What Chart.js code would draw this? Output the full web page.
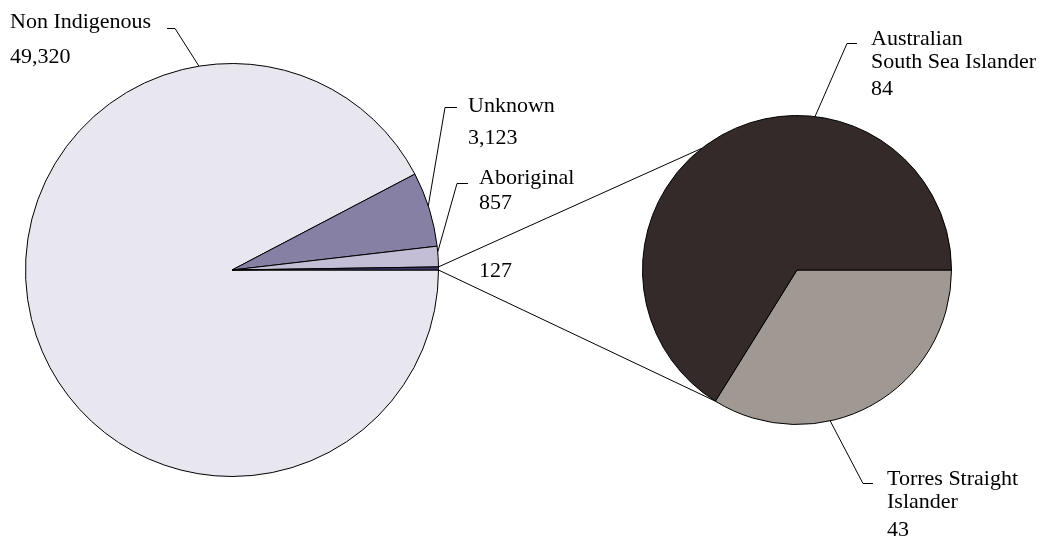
<!DOCTYPE html>
<html>
<head>
<meta charset="utf-8">
<script src="https://cdn.jsdelivr.net/npm/chart.js@4/dist/chart.umd.min.js"></script>
<style>
  body { margin: 0; background: #fff; }
  #wrap { position: relative; width: 1039px; height: 539px; }
  canvas { position: absolute; left: 0; top: 0; }
</style>
</head>
<body>
<div id="wrap">
  <canvas id="mainPie" width="1039" height="539"></canvas>
  <canvas id="subPie" width="1039" height="539"></canvas>
</div>
<script>
// main pie data (last slice is split out into the small pie)
var mainLabels = [['Non Indigenous'], ['Unknown'], ['Aboriginal'], []];
var mainValues = [49320, 3123, 857, 127];
var mainColors = ['#e8e6ee', '#8680a5', '#c3bdd6', '#3c3868'];

// secondary pie data
var subLabels = [['Torres Straight', 'Islander'], ['Australian', 'South Sea Islander']];
var subValues = [43, 84];
var subColors = ['#a09892', '#332a29'];

// where each label sits: first baseline, line step, value baseline,
// little tick beside the text and the angle where the leader meets the pie
var mainLayout = [
    { x: 10, y: 28, step: 23, valueY: 63, tick: [167, 175, 28], edge: -99.2 },
    { x: 468, y: 112, step: 23, valueY: 144, tick: [457, 445, 107], edge: -18.1 },
    { x: 479, y: 184, step: 23, valueY: 209, tick: [468, 457, 183], edge: -5.0 },
    { x: 479, y: 277, step: 23, valueY: 277, tick: null, edge: 0 }
];
var subLayout = [
    { x: 887, y: 485, step: 23, valueY: 536, tick: [873, 863, 483], edge: 77.6 },
    { x: 871, y: 45, step: 23, valueY: 95, tick: [857, 847, 43], edge: -83.3 }
];
var topLinkAngle = -128; // where the upper connector touches the small pie

var FONT = '22px "Liberation Serif", "Times New Roman", serif';

function rad(d) { return d * Math.PI / 180; }

function pieOptions(padding) {
    return {
        responsive: false,
        animation: false,
        rotation: 90,
        layout: { padding: padding },
        plugins: { legend: { display: false }, tooltip: { enabled: false } },
        events: []
    };
}

var mainChart = new Chart(document.getElementById('mainPie'), {
    type: 'pie',
    data: {
        labels: mainLabels,
        datasets: [{
            data: mainValues,
            backgroundColor: mainColors,
            borderColor: '#000',
            borderWidth: 1
        }]
    },
    options: pieOptions({ left: 25, right: 600, top: 63, bottom: 62 })
});

// draws connectors, leaders and labels for both pies
var labelPlugin = {
    id: 'pieLabels',
    afterDraw: function (chart) {
        var ctx = chart.ctx;
        var mainArcs = mainChart.getDatasetMeta(0).data;
        var subArcs = chart.getDatasetMeta(0).data;

        function onEdge(arc, angle) {
            var p = arc.getProps(['x', 'y', 'outerRadius'], true);
            return { x: p.x + p.outerRadius * Math.cos(angle), y: p.y + p.outerRadius * Math.sin(angle) };
        }

        ctx.save();
        ctx.strokeStyle = '#000';
        ctx.lineWidth = 1;

        // lines joining the split slice to the small pie
        var other = mainArcs[mainArcs.length - 1];
        var op = other.getProps(['startAngle', 'endAngle'], true);
        var a1 = onEdge(other, op.startAngle);
        var a2 = onEdge(other, op.endAngle);
        var b1 = onEdge(subArcs[0], rad(topLinkAngle));
        var b2 = onEdge(subArcs[1], subArcs[1].getProps(['startAngle'], true).startAngle);
        ctx.beginPath();
        ctx.moveTo(a1.x, a1.y); ctx.lineTo(b1.x, b1.y);
        ctx.moveTo(a2.x, a2.y); ctx.lineTo(b2.x, b2.y);
        ctx.stroke();

        function drawLabels(arcs, labels, values, layout) {
            ctx.font = FONT;
            ctx.fillStyle = '#000';
            ctx.textBaseline = 'alphabetic';
            ctx.textAlign = 'left';
            for (var i = 0; i < arcs.length; i++) {
                var l = layout[i];
                var lines = labels[i];
                for (var j = 0; j < lines.length; j++) {
                    ctx.fillText(lines[j], l.x, l.y + j * l.step);
                }
                ctx.fillText(values[i].toLocaleString('en-US'), l.x, l.valueY);
                if (l.tick) {
                    var e = onEdge(arcs[i], rad(l.edge));
                    ctx.beginPath();
                    ctx.moveTo(l.tick[0], l.tick[2] + 0.5);
                    ctx.lineTo(l.tick[1], l.tick[2] + 0.5);
                    ctx.lineTo(e.x, e.y);
                    ctx.stroke();
                }
            }
        }

        drawLabels(mainArcs, mainLabels, mainValues, mainLayout);
        drawLabels(subArcs, subLabels, subValues, subLayout);
        ctx.restore();
    }
};

var subChart = new Chart(document.getElementById('subPie'), {
    type: 'pie',
    data: {
        labels: subLabels,
        datasets: [{
            data: subValues,
            backgroundColor: subColors,
            borderColor: '#000',
            borderWidth: 1
        }]
    },
    options: pieOptions({ left: 642, right: 87, top: 115, bottom: 114 }),
    plugins: [labelPlugin]
});
</script>
</body>
</html>
